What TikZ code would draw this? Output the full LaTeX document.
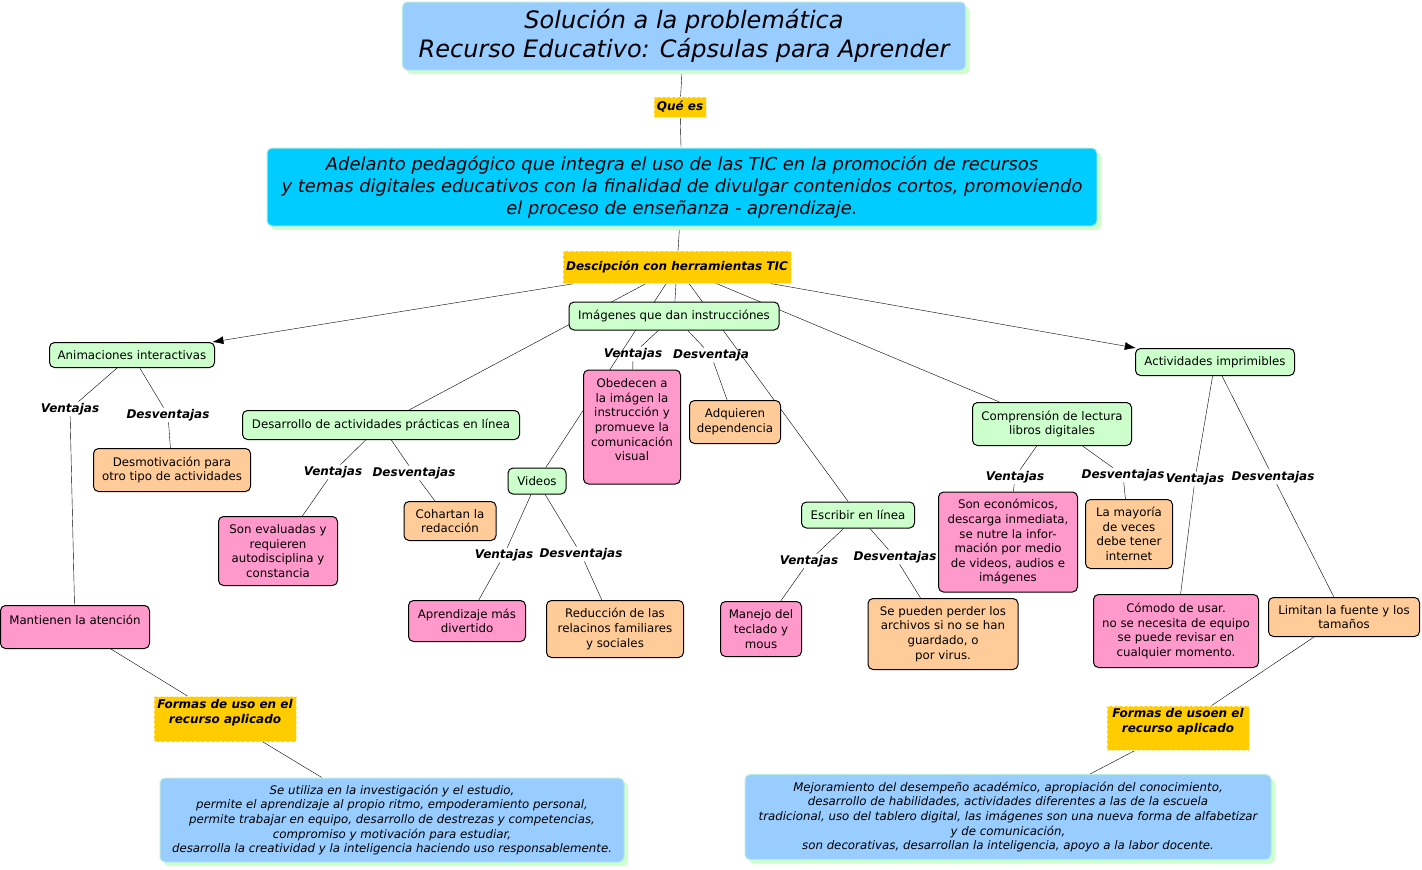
\documentclass[tikz,border=0pt]{standalone}
\usepackage{fontspec}
\setmainfont{DejaVu Sans}
\usetikzlibrary{arrows.meta,backgrounds,shadows}

\definecolor{azul}{HTML}{99CCFF}
\definecolor{celeste}{HTML}{00CCFF}
\definecolor{amarillo}{HTML}{FFCC00}
\definecolor{verde}{HTML}{CCFFCC}
\definecolor{rosa}{HTML}{FF99CC}
\definecolor{naranja}{HTML}{FFCC99}

\begin{document}
\begin{tikzpicture}[x=1pt,y=-1pt,line width=1pt]
    \tikzstyle{caja}=[draw=black,rounded corners=5pt,inner sep=3pt,align=center,font=\fontsize{11.8}{14.6}\selectfont]
    \tikzstyle{tema}=[caja,fill=verde]
    \tikzstyle{ventaja}=[caja,fill=rosa]
    \tikzstyle{desventaja}=[caja,fill=naranja]
    \tikzstyle{enlace}=[fill=amarillo,draw=amarillo!40!white,densely dashed,inner sep=2pt,align=center,font=\fontsize{12}{14.6}\selectfont\bfseries\itshape]
    \tikzstyle{rotulo}=[inner sep=1pt,font=\fontsize{12}{14}\selectfont\bfseries\itshape]
    \tikzstyle{sombreada}=[rounded corners=5pt,align=center,draw=verde!60!azul,drop shadow={shadow xshift=4pt,shadow yshift=-4pt,fill=verde,opacity=1}]

    \useasboundingbox (0,0) rectangle (1422,870);

    % titulo y definicion
    \node[sombreada,fill=azul,minimum width=563pt,minimum height=68pt,font=\fontsize{24}{29}\selectfont\itshape] (titulo) at (684,36)
        {Solución a la problemática\\Recurso Educativo: Cápsulas para Aprender};
    \node[enlace,minimum width=52pt,minimum height=20pt] (quees) at (680,107) {Qué es};
    \node[sombreada,fill=celeste,minimum width=830pt,minimum height=78pt,font=\fontsize{17.9}{22}\selectfont\itshape] (adelanto) at (682,187)
        {Adelanto pedagógico que integra el uso de las TIC en la promoción de recursos\\y temas digitales educativos con la finalidad de divulgar contenidos cortos, promoviendo\\el proceso de enseñanza - aprendizaje.};
    \node[enlace,minimum width=228pt,minimum height=32pt] (descripcion) at (677,267) {Descipción con herramientas TIC};

    % herramientas
    \node[tema,minimum width=210pt,minimum height=28pt] (imag) at (674,316) {Imágenes que dan instrucciónes};
    \node[tema,minimum width=165pt,minimum height=25pt] (anim) at (132,355) {Animaciones interactivas};
    \node[tema,minimum width=159pt,minimum height=27pt] (acti) at (1215,362) {Actividades imprimibles};
    \node[tema,minimum width=277pt,minimum height=29pt] (desa) at (381,425) {Desarrollo de actividades prácticas en línea};
    \node[tema,minimum width=159pt,minimum height=43pt] (comp) at (1052,424) {Comprensión de lectura\\libros digitales};
    \node[tema,minimum width=58pt,minimum height=26pt] (vide) at (537,481) {Videos};
    \node[tema,minimum width=113pt,minimum height=26pt] (escr) at (858,515) {Escribir en línea};

    % ventajas y desventajas
    \foreach \nombre/\x/\y/\texto in {anim-v/70/409/Ventajas, anim-d/168/415/Desventajas, desa-v/333/472/Ventajas, desa-d/414/473/Desventajas,
            imag-v/633/354/Ventajas, imag-d/711/355/Desventaja, vide-v/504/555/Ventajas, vide-d/581/554/Desventajas,
            escr-v/809/561/Ventajas, escr-d/895/557/Desventajas, comp-v/1015/477/Ventajas, comp-d/1123/475/Desventajas,
            acti-v/1195/479/Ventajas, acti-d/1273/477/Desventajas}
        \node[rotulo] (\nombre) at (\x,\y) {\texto};

    \node[ventaja,minimum width=149pt,minimum height=43pt] (mantienen) at (75,627) {Mantienen la atención\\\mbox{}};
    \node[ventaja,minimum width=119pt,minimum height=69pt] (evaluadas) at (278,551) {Son evaluadas y\\requieren\\autodisciplina y\\constancia};
    \node[ventaja,minimum width=97pt,minimum height=114pt] (obedecen) at (632,427) {Obedecen a\\la imágen la\\instrucción y\\promueve la\\comunicación\\visual\\\mbox{}};
    \node[ventaja,minimum width=117pt,minimum height=41pt] (aprendizaje) at (467,621) {Aprendizaje más\\divertido};
    \node[ventaja,minimum width=81pt,minimum height=55pt] (manejo) at (761,629) {Manejo del\\teclado y\\mous};
    \node[ventaja,minimum width=139pt,minimum height=100pt] (economicos) at (1008,542) {Son económicos,\\descarga inmediata,\\se nutre la infor-\\mación por medio\\de videos, audios e\\imágenes};
    \node[ventaja,minimum width=165pt,minimum height=73pt] (comodo) at (1176,631) {Cómodo de usar.\\no se necesita de equipo\\se puede revisar en\\cualquier momento.};

    \node[desventaja,minimum width=157pt,minimum height=43pt] (desmotivacion) at (172,470) {Desmotivación para\\otro tipo de actividades};
    \node[desventaja,minimum width=92pt,minimum height=39pt] (cohartan) at (450,521) {Cohartan la\\redacción};
    \node[desventaja,minimum width=91pt,minimum height=43pt] (adquieren) at (735,422) {Adquieren\\dependencia};
    \node[desventaja,minimum width=137pt,minimum height=57pt] (reduccion) at (615,629) {Reducción de las\\relacinos familiares\\y sociales};
    \node[desventaja,minimum width=150pt,minimum height=71pt] (perder) at (943,634) {Se pueden perder los\\archivos si no se han\\guardado, o\\por virus.};
    \node[desventaja,minimum width=87pt,minimum height=69pt] (mayoria) at (1129,534) {La mayoría\\de veces\\debe tener\\internet};
    \node[desventaja,minimum width=151pt,minimum height=39pt] (limitan) at (1344,617) {Limitan la fuente y los\\tamaños};

    % formas de uso
    \node[enlace,minimum width=142pt,minimum height=45pt] (formas-izq) at (225,719) {Formas de uso en el\\recurso aplicado\\\mbox{}};
    \node[enlace,minimum width=142pt,minimum height=44pt] (formas-der) at (1178,728) {Formas de usoen el\\recurso aplicado\\\mbox{}};
    \node[sombreada,fill=azul,minimum width=464pt,minimum height=84pt,font=\fontsize{11.8}{14.6}\selectfont\itshape] (usos-izq) at (392,820)
        {Se utiliza en la investigación y el estudio,\\permite el aprendizaje al propio ritmo, empoderamiento personal,\\permite trabajar en equipo, desarrollo de destrezas y competencias,\\compromiso y motivación para estudiar,\\desarrolla la creatividad y la inteligencia haciendo uso responsablemente.};
    \node[sombreada,fill=azul,minimum width=526pt,minimum height=85pt,font=\fontsize{11.8}{14.6}\selectfont\itshape] (usos-der) at (1008,817)
        {Mejoramiento del desempeño académico, apropiación del conocimiento,\\desarrollo de habilidades, actividades diferentes a las de la escuela\\tradicional, uso del tablero digital, las imágenes son una nueva forma de alfabetizar\\y de comunicación,\\son decorativas, desarrollan la inteligencia, apoyo a la labor docente.};

    \begin{pgfonlayer}{background}
        \foreach \desde/\hasta in {titulo/quees, quees/adelanto, adelanto/descripcion,
                descripcion/desa, descripcion/vide, descripcion/imag, descripcion/escr, descripcion/comp,
                imag/imag-v, imag-v/obedecen, imag/imag-d, imag-d/adquieren,
                anim/anim-v, anim-v/mantienen, anim/anim-d, anim-d/desmotivacion,
                desa/desa-v, desa-v/evaluadas, desa/desa-d, desa-d/cohartan,
                vide/vide-v, vide-v/aprendizaje, vide/vide-d, vide-d/reduccion,
                escr/escr-v, escr-v/manejo, escr/escr-d, escr-d/perder,
                comp/comp-v, comp-v/economicos, comp/comp-d, comp-d/mayoria,
                acti/acti-v, acti-v/comodo, acti/acti-d, acti-d/limitan,
                mantienen/formas-izq, formas-izq/usos-izq, limitan/formas-der, formas-der/usos-der}
            \draw (\desde) -- (\hasta);
        \foreach \hasta in {anim, acti}
            \draw[-{Latex[length=11pt,width=8pt]}] (descripcion) -- (\hasta);
    \end{pgfonlayer}
\end{tikzpicture}
\end{document}
